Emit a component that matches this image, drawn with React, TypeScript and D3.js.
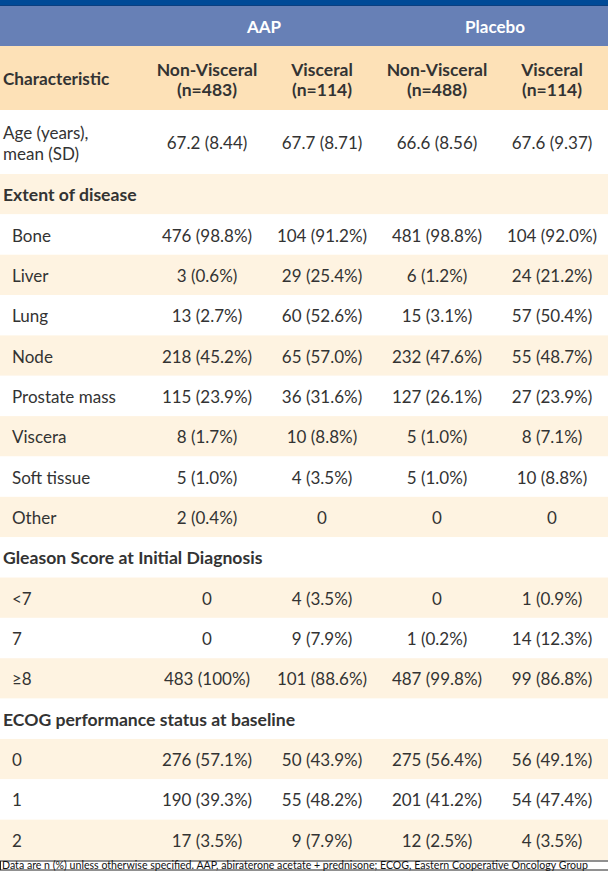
import React from 'react';
import * as d3 from 'd3';

// table content
const groups = ['AAP', 'Placebo'];
const colTitles = ['Non-Visceral', 'Visceral', 'Non-Visceral', 'Visceral'];
const colCounts = ['(n=483)', '(n=114)', '(n=488)', '(n=114)'];
const ageValues = ['67.2 (8.44)', '67.7 (8.71)', '66.6 (8.56)', '67.6 (9.37)'];

const extentLabels = ['Bone', 'Liver', 'Lung', 'Node', 'Prostate mass', 'Viscera', 'Soft tissue', 'Other'];
const extentValues = [
  ['476 (98.8%)', '104 (91.2%)', '481 (98.8%)', '104 (92.0%)'],
  ['3 (0.6%)', '29 (25.4%)', '6 (1.2%)', '24 (21.2%)'],
  ['13 (2.7%)', '60 (52.6%)', '15 (3.1%)', '57 (50.4%)'],
  ['218 (45.2%)', '65 (57.0%)', '232 (47.6%)', '55 (48.7%)'],
  ['115 (23.9%)', '36 (31.6%)', '127 (26.1%)', '27 (23.9%)'],
  ['8 (1.7%)', '10 (8.8%)', '5 (1.0%)', '8 (7.1%)'],
  ['5 (1.0%)', '4 (3.5%)', '5 (1.0%)', '10 (8.8%)'],
  ['2 (0.4%)', '0', '0', '0'],
];

const gleasonLabels = ['<7', '7', '≥8'];
const gleasonValues = [
  ['0', '4 (3.5%)', '0', '1 (0.9%)'],
  ['0', '9 (7.9%)', '1 (0.2%)', '14 (12.3%)'],
  ['483 (100%)', '101 (88.6%)', '487 (99.8%)', '99 (86.8%)'],
];

const ecogLabels = ['0', '1', '2'];
const ecogValues = [
  ['276 (57.1%)', '50 (43.9%)', '275 (56.4%)', '56 (49.1%)'],
  ['190 (39.3%)', '55 (48.2%)', '201 (41.2%)', '54 (47.4%)'],
  ['17 (3.5%)', '9 (7.9%)', '12 (2.5%)', '4 (3.5%)'],
];

const sections = [
  { title: 'Extent of disease', labels: extentLabels, values: extentValues },
  { title: 'Gleason Score at Initial Diagnosis', labels: gleasonLabels, values: gleasonValues },
  { title: 'ECOG performance status at baseline', labels: ecogLabels, values: ecogValues },
];

const footnote = 'Data are n (%) unless otherwise specified. AAP, abiraterone acetate + prednisone; ECOG, Eastern Cooperative Oncology Group';

type Row = { label: string; values: string[] | null; section: boolean };

const W = 608;
const H = 872;
const FONT = 'Lato, "Open Sans", sans-serif';
const TEXT = '#333333';
const DARK_BLUE = '#004a97';
const BLUE = '#6780b6';
const PEACH = '#fde1b7';
const CREAM = '#fef3e1';

export default function App() {
  const rows: Row[] = [];
  sections.forEach(s => {
    rows.push({ label: s.title, values: null, section: true });
    s.labels.forEach((l, i) => rows.push({ label: l, values: s.values[i], section: false }));
  });

  const x = d3.scalePoint<number>().domain(d3.range(4)).range([207, 552]);
  const gx = d3.scalePoint<string>().domain(groups).range([264, 495]);
  const y = d3.scaleLinear().domain([0, rows.length]).range([174, 860]);
  const rowH = y(1) - y(0);

  return (
    <svg width={W} height={H} style={{ position: 'absolute', left: 0, top: 0 }} fontFamily={FONT}>
      <rect x={0} y={0} width={W} height={H} fill="#fff" />
      {/* top bars */}
      <rect x={0} y={0} width={W} height={6} fill={DARK_BLUE} />
      <rect x={0} y={5} width={W} height={1} fill="#0b3f80" />
      <rect x={0} y={6} width={W} height={40} fill={BLUE} />
      <rect x={0} y={46} width={W} height={64} fill={PEACH} />
      {groups.map(g => (
        <text key={g} x={gx(g)} y={33} textAnchor="middle" fill="#fff" fontWeight="bold" fontSize={17}>{g}</text>
      ))}
      <text x={3} y={85} fill={TEXT} fontWeight="bold" fontSize={17.2}>Characteristic</text>
      {colTitles.map((t, i) => (
        <g key={i} fill={TEXT} fontWeight="bold" fontSize={17.5} textAnchor="middle">
          <text x={x(i)} y={76}>{t}</text>
          <text x={x(i)} y={96}>{colCounts[i]}</text>
        </g>
      ))}

      {/* age row */}
      <g fill={TEXT} fontSize={17}>
        <text x={3} y={139}>Age (years),</text>
        <text x={3} y={160}>mean (SD)</text>
        {ageValues.map((v, i) => (
          <text key={i} x={x(i)} y={149} textAnchor="middle">{v}</text>
        ))}
      </g>

      {rows.map((r, k) => {
        const top = y(k);
        const base = top + rowH / 2 + 7;
        return (
          <g key={k}>
            <rect x={0} y={top} width={W} height={rowH} fill={k % 2 === 0 ? CREAM : '#fff'} />
            {r.section ? (
              <text x={3} y={base} fill={TEXT} fontWeight="bold" fontSize={17.6}>{r.label}</text>
            ) : (
              <g fill={TEXT} fontSize={17}>
                <text x={12} y={base}>{r.label}</text>
                {r.values!.map((v, i) => (
                  <text key={i} x={x(i)} y={base} textAnchor="middle">{v}</text>
                ))}
              </g>
            )}
          </g>
        );
      })}

      {/* footnote */}
      <rect x={0.5} y={861} width={W} height={9} fill="#fff" stroke="#222" strokeWidth={1} />
      <text x={2} y={868.8} fill="#111" fontSize={10.6}>{footnote}</text>
    </svg>
  );
}
